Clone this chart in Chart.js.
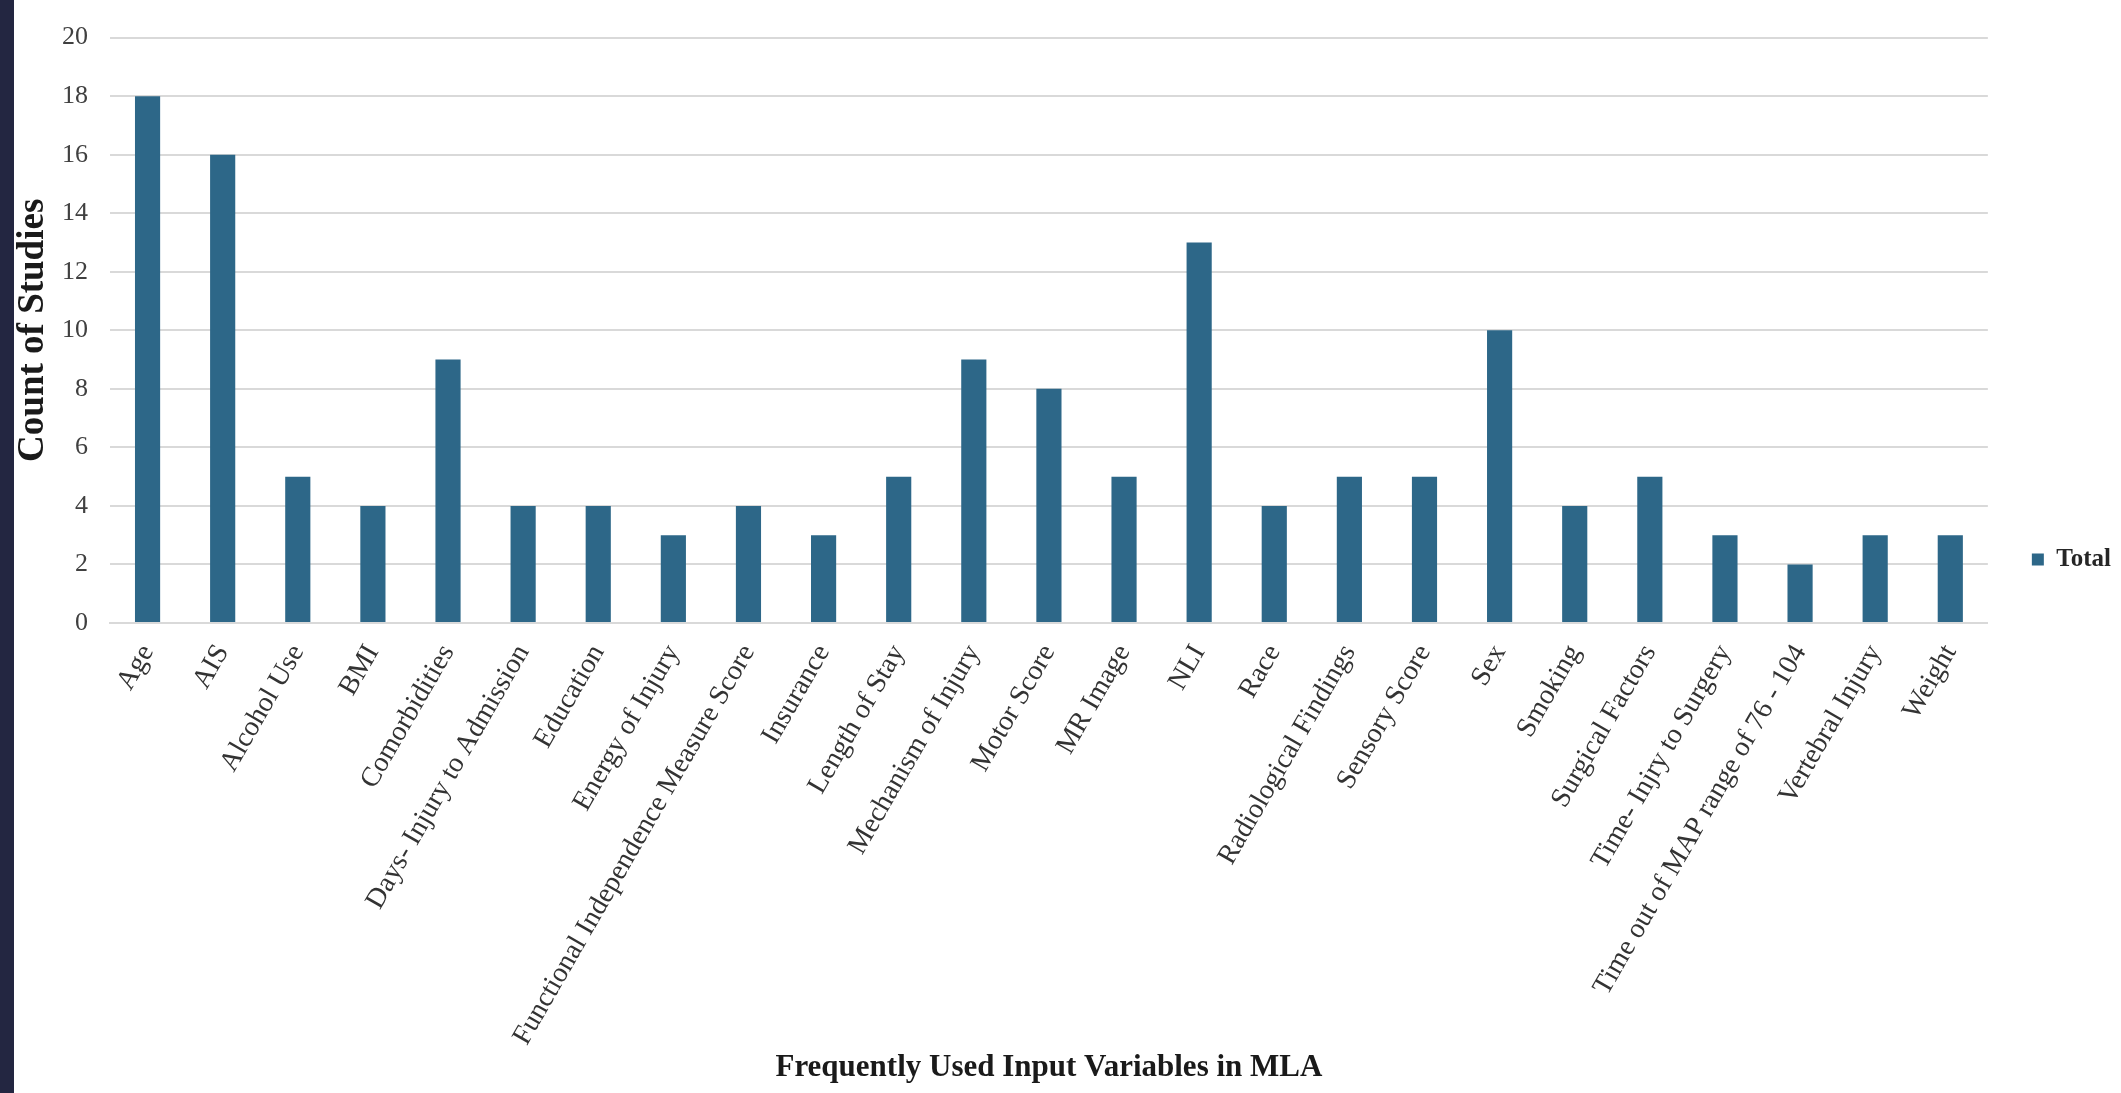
<!DOCTYPE html>
<html>
<head>
<meta charset="utf-8">
<script src="https://cdn.jsdelivr.net/npm/chart.js@4/dist/chart.umd.min.js"></script>
<style>
  html, body { margin: 0; padding: 0; background: #ffffff; overflow: hidden; }
  #wrap { position: relative; width: 2121px; height: 1093px; background: #ffffff; }
  #edge { position: absolute; left: 0; top: 0; width: 14px; height: 1093px; background: #232641; z-index: 2; }
  #c { position: absolute; left: 0; top: 0; }
</style>
</head>
<body>
<div id="wrap">
  <div id="edge"></div>
  <canvas id="c" width="2121" height="1093"></canvas>
</div>
<script>
// Input variables used by the machine-learning studies, and how many studies used each
const categories = [
  'Age', 'AIS', 'Alcohol Use', 'BMI', 'Comorbidities', 'Days- Injury to Admission',
  'Education', 'Energy of Injury', 'Functional Independence Measure Score', 'Insurance',
  'Length of Stay', 'Mechanism of Injury', 'Motor Score', 'MR Image', 'NLI', 'Race',
  'Radiological Findings', 'Sensory Score', 'Sex', 'Smoking', 'Surgical Factors',
  'Time- Injry to Surgery', 'Time out of MAP range of 76 - 104', 'Vertebral Injury', 'Weight'
];
const totals = [18, 16, 5, 4, 9, 4, 4, 3, 4, 3, 5, 9, 8, 5, 13, 4, 5, 5, 10, 4, 5, 3, 2, 3, 3];
const seriesName = 'Total';
const yMin = 0;
const yMax = 20;
const yStep = 2;

const SERIF = '"Liberation Serif", "Times New Roman", serif';
const BAR = '#2d6788';

new Chart(document.getElementById('c'), {
  type: 'bar',
  data: {
    labels: categories,
    datasets: [{
      label: seriesName,
      data: totals,
      backgroundColor: BAR,
      borderWidth: 0,
      barPercentage: 0.335,
      categoryPercentage: 1.0
    }]
  },
  options: {
    responsive: false,
    animation: false,
    devicePixelRatio: 1,
    layout: { padding: { top: 26, left: 14, right: 0, bottom: 0 } },
    plugins: {
      tooltip: { enabled: false },
      legend: {
        position: 'right',
        labels: {
          boxWidth: 12,
          boxHeight: 12,
          padding: 10,
          color: '#262626',
          font: { family: SERIF, size: 25, weight: 'bold' }
        }
      }
    },
    scales: {
      x: {
        grid: { display: false },
        border: { display: true, color: '#d9d9d9', width: 2 },
        ticks: {
          autoSkip: false,
          minRotation: 60,
          maxRotation: 60,
          padding: 8,
          color: '#333333',
          font: { family: SERIF, size: 28 }
        },
        title: {
          display: true,
          text: 'Frequently Used Input Variables in MLA',
          color: '#1a1a1a',
          font: { family: SERIF, size: 31, weight: 'bold' },
          padding: { top: 0, bottom: 6 }
        },
        afterFit(scale) { scale.height = 470; }
      },
      y: {
        min: yMin,
        max: yMax,
        ticks: {
          stepSize: yStep,
          padding: 22,
          color: '#404040',
          font: { family: SERIF, size: 26 }
        },
        grid: { color: '#d9d9d9', lineWidth: 2, drawTicks: false },
        border: { display: false },
        title: {
          display: true,
          text: 'Count of Studies',
          color: '#1a1a1a',
          font: { family: SERIF, size: 37, weight: 'bold', lineHeight: 1 },
          padding: { top: 1, bottom: 0 }
        },
        afterFit(scale) { scale.width = 96; }
      },
      gap: {
        axis: 'y',
        position: 'right',
        display: true,
        ticks: { display: false },
        grid: { display: false },
        border: { display: false },
        afterFit(scale) { scale.width = 34; }
      }
    }
  }
});
</script>
</body>
</html>
